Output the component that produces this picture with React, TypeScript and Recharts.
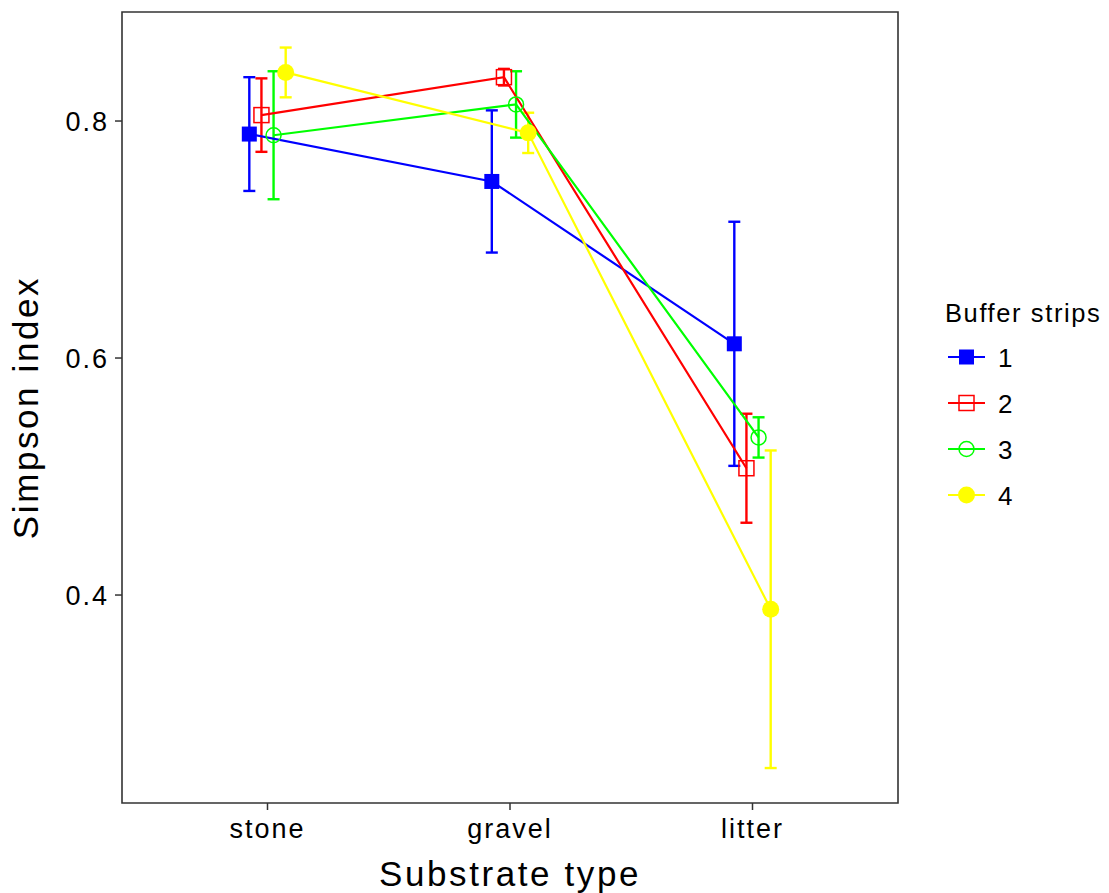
import { ComposedChart, ErrorBar, Line, ReferenceArea, Scatter, XAxis, YAxis } from 'recharts'

// substrate categories on the x axis
const substrates = ['stone', 'gravel', 'litter']
// buffer strip groups
const strips = ['1', '2', '3', '4']

// mean Simpson index per substrate, one array per strip
const strip1 = [0.789, 0.749, 0.612]
const strip2 = [0.805, 0.837, 0.507]
const strip3 = [0.788, 0.814, 0.533]
const strip4 = [0.841, 0.79, 0.388]

// half-width of the error bars
const strip1Err = [0.048, 0.06, 0.103]
const strip2Err = [0.031, 0.007, 0.046]
const strip3Err = [0.054, 0.028, 0.017]
const strip4Err = [0.021, 0.017, 0.134]

const yTicks = [0.4, 0.6, 0.8]

const means = [strip1, strip2, strip3, strip4]
const errs = [strip1Err, strip2Err, strip3Err, strip4Err]

const COLORS = ['#0000ff', '#ff0000', '#00ff00', '#ffff00']
// position_dodge offsets (in category units)
const DODGE = [-0.075, -0.025, 0.025, 0.075]
const X_DOMAIN: [number, number] = [0.4, 3.6]
const Y_DOMAIN: [number, number] = [0.2245, 0.892]
const FONT = '"Liberation Sans", Arial, sans-serif'
const INK = '#333333'

const series = strips.map((name, i) => ({
  name,
  color: COLORS[i],
  rows: substrates.map((_, j) => ({ x: j + 1 + DODGE[i], y: means[i][j], err: errs[i][j] })),
}))

function Marker({ kind, cx, cy, color }: { kind: number; cx: number; cy: number; color: string }) {
  if (cx == null || cy == null) return <g />
  if (kind === 0) return <rect x={cx - 7.5} y={cy - 7.5} width={15} height={15} fill={color} />
  if (kind === 1)
    return <rect x={cx - 7.5} y={cy - 7.5} width={15} height={15} fill="none" stroke={color} strokeWidth={1.5} />
  if (kind === 2) return <circle cx={cx} cy={cy} r={7.5} fill="none" stroke={color} strokeWidth={1.5} />
  return <circle cx={cx} cy={cy} r={8.5} fill={color} />
}

const tickStyle = { fontSize: 27, fill: '#000', fontFamily: FONT, letterSpacing: 2 }

function Legend() {
  return (
    <svg width={1109} height={893} style={{ position: 'absolute', left: 0, top: 0, pointerEvents: 'none' }}>
      <text x={945} y={322} fontSize={25.5} fontFamily={FONT} letterSpacing={1.6} fill="#000">
        Buffer strips
      </text>
      {series.map((s, i) => {
        const cy = 357 + i * 46
        return (
          <g key={s.name}>
            <line x1={948} x2={985} y1={cy} y2={cy} stroke={s.color} strokeWidth={2.2} />
            <Marker kind={i} cx={966.5} cy={cy} color={s.color} />
            <text x={998} y={cy + 9.5} fontSize={26} fontFamily={FONT} fill="#000">
              {s.name}
            </text>
          </g>
        )
      })}
    </svg>
  )
}

export default function App() {
  return (
    <div style={{ position: 'absolute', left: 0, top: 0, width: 1109, height: 893, background: '#fff' }}>
      <ComposedChart width={1109} height={893} margin={{ top: 12, right: 211, bottom: 0, left: 0 }}>
        <XAxis
          dataKey="x"
          type="number"
          domain={X_DOMAIN}
          ticks={substrates.map((_, j) => j + 1)}
          tickFormatter={(v: number) => substrates[Math.round(v) - 1]}
          allowDataOverflow
          height={90}
          tickSize={7}
          tickMargin={9}
          axisLine={false}
          tickLine={{ stroke: INK, strokeWidth: 1.5 }}
          tick={tickStyle}
          label={{
            value: 'Substrate type',
            position: 'insideBottom',
            offset: 7,
            style: { fontSize: 35, fill: '#000', fontFamily: FONT, letterSpacing: 2.6 },
          }}
        />
        <YAxis
          dataKey="y"
          type="number"
          domain={Y_DOMAIN}
          ticks={yTicks}
          tickFormatter={(v: number) => v.toFixed(1)}
          allowDataOverflow
          width={122}
          tickSize={7}
          tickMargin={6}
          axisLine={false}
          tickLine={{ stroke: INK, strokeWidth: 1.5 }}
          tick={tickStyle}
          label={{
            value: 'Simpson index',
            angle: -90,
            position: 'insideLeft',
            offset: 26,
            style: { fontSize: 35, fill: '#000', fontFamily: FONT, letterSpacing: 2.6, textAnchor: 'middle' },
          }}
        />
        <ReferenceArea
          x1={X_DOMAIN[0]}
          x2={X_DOMAIN[1]}
          y1={Y_DOMAIN[0]}
          y2={Y_DOMAIN[1]}
          fill="none"
          fillOpacity={0}
          stroke={INK}
          strokeWidth={1.6}
        />
        {series.map((s) => (
          <Scatter
            key={`eb-${s.name}`}
            data={s.rows}
            dataKey="y"
            shape={() => <g />}
            isAnimationActive={false}
          >
            <ErrorBar dataKey="err" direction="y" width={6} stroke={s.color} strokeWidth={2.4} isAnimationActive={false} />
          </Scatter>
        ))}
        {series.map((s) => (
          <Line
            key={`ln-${s.name}`}
            data={s.rows}
            dataKey="y"
            type="linear"
            stroke={s.color}
            strokeWidth={2.2}
            dot={false}
            activeDot={false}
            isAnimationActive={false}
          />
        ))}
        {series.map((s, i) => (
          <Scatter
            key={`pt-${s.name}`}
            data={s.rows}
            dataKey="y"
            shape={(p: any) => <Marker kind={i} cx={p.cx} cy={p.cy} color={s.color} />}
            isAnimationActive={false}
          />
        ))}
      </ComposedChart>
      <Legend />
    </div>
  )
}
